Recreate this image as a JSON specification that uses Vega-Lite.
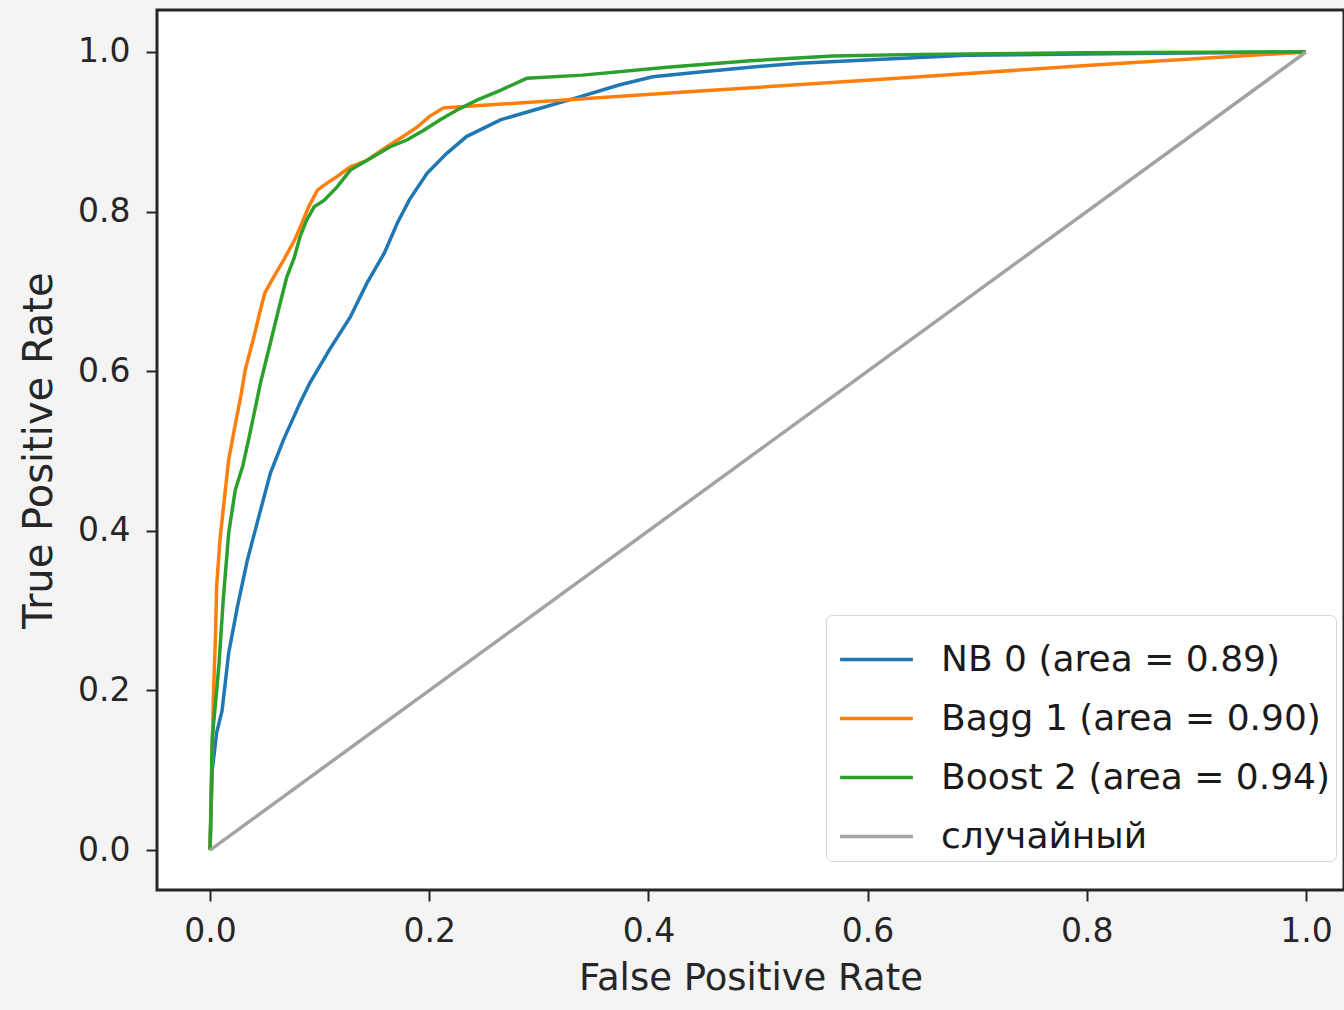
{
  "$schema": "https://vega.github.io/schema/vega-lite/v6.json",
  "autosize": "none",
  "width": 1187,
  "height": 880,
  "padding": {"left": 157, "top": 10, "right": 0, "bottom": 120},
  "background": "#f4f4f4",
  "config": {
    "view": {"fill": "white", "stroke": "#262626", "strokeWidth": 3},
    "font": "DejaVu Sans"
  },
  "datasets": {
    "roc": [
      {"model": "NB 0 (area = 0.89)", "i": 0, "fpr": 0, "tpr": 0},
      {"model": "NB 0 (area = 0.89)", "i": 1, "fpr": 0.002, "tpr": 0.1},
      {"model": "NB 0 (area = 0.89)", "i": 2, "fpr": 0.006, "tpr": 0.147},
      {"model": "NB 0 (area = 0.89)", "i": 3, "fpr": 0.011, "tpr": 0.175},
      {"model": "NB 0 (area = 0.89)", "i": 4, "fpr": 0.017, "tpr": 0.247},
      {"model": "NB 0 (area = 0.89)", "i": 5, "fpr": 0.025, "tpr": 0.305},
      {"model": "NB 0 (area = 0.89)", "i": 6, "fpr": 0.034, "tpr": 0.363},
      {"model": "NB 0 (area = 0.89)", "i": 7, "fpr": 0.043, "tpr": 0.41},
      {"model": "NB 0 (area = 0.89)", "i": 8, "fpr": 0.055, "tpr": 0.472},
      {"model": "NB 0 (area = 0.89)", "i": 9, "fpr": 0.067, "tpr": 0.514},
      {"model": "NB 0 (area = 0.89)", "i": 10, "fpr": 0.082, "tpr": 0.56},
      {"model": "NB 0 (area = 0.89)", "i": 11, "fpr": 0.091, "tpr": 0.585},
      {"model": "NB 0 (area = 0.89)", "i": 12, "fpr": 0.109, "tpr": 0.627},
      {"model": "NB 0 (area = 0.89)", "i": 13, "fpr": 0.128, "tpr": 0.668},
      {"model": "NB 0 (area = 0.89)", "i": 14, "fpr": 0.143, "tpr": 0.71},
      {"model": "NB 0 (area = 0.89)", "i": 15, "fpr": 0.159, "tpr": 0.748},
      {"model": "NB 0 (area = 0.89)", "i": 16, "fpr": 0.171, "tpr": 0.786},
      {"model": "NB 0 (area = 0.89)", "i": 17, "fpr": 0.182, "tpr": 0.815},
      {"model": "NB 0 (area = 0.89)", "i": 18, "fpr": 0.198, "tpr": 0.848},
      {"model": "NB 0 (area = 0.89)", "i": 19, "fpr": 0.216, "tpr": 0.873},
      {"model": "NB 0 (area = 0.89)", "i": 20, "fpr": 0.234, "tpr": 0.894},
      {"model": "NB 0 (area = 0.89)", "i": 21, "fpr": 0.265, "tpr": 0.915},
      {"model": "NB 0 (area = 0.89)", "i": 22, "fpr": 0.295, "tpr": 0.927},
      {"model": "NB 0 (area = 0.89)", "i": 23, "fpr": 0.338, "tpr": 0.944},
      {"model": "NB 0 (area = 0.89)", "i": 24, "fpr": 0.374, "tpr": 0.959},
      {"model": "NB 0 (area = 0.89)", "i": 25, "fpr": 0.404, "tpr": 0.969},
      {"model": "NB 0 (area = 0.89)", "i": 26, "fpr": 0.447, "tpr": 0.975},
      {"model": "NB 0 (area = 0.89)", "i": 27, "fpr": 0.493, "tpr": 0.981},
      {"model": "NB 0 (area = 0.89)", "i": 28, "fpr": 0.538, "tpr": 0.986},
      {"model": "NB 0 (area = 0.89)", "i": 29, "fpr": 0.599, "tpr": 0.99},
      {"model": "NB 0 (area = 0.89)", "i": 30, "fpr": 0.69, "tpr": 0.996},
      {"model": "NB 0 (area = 0.89)", "i": 31, "fpr": 0.84, "tpr": 0.998},
      {"model": "NB 0 (area = 0.89)", "i": 32, "fpr": 1, "tpr": 1},

      {"model": "Bagg 1 (area = 0.90)", "i": 0, "fpr": 0, "tpr": 0},
      {"model": "Bagg 1 (area = 0.90)", "i": 1, "fpr": 0.001, "tpr": 0.06},
      {"model": "Bagg 1 (area = 0.90)", "i": 2, "fpr": 0.002, "tpr": 0.125},
      {"model": "Bagg 1 (area = 0.90)", "i": 3, "fpr": 0.003, "tpr": 0.188},
      {"model": "Bagg 1 (area = 0.90)", "i": 4, "fpr": 0.005, "tpr": 0.27},
      {"model": "Bagg 1 (area = 0.90)", "i": 5, "fpr": 0.006, "tpr": 0.33},
      {"model": "Bagg 1 (area = 0.90)", "i": 6, "fpr": 0.009, "tpr": 0.388},
      {"model": "Bagg 1 (area = 0.90)", "i": 7, "fpr": 0.013, "tpr": 0.439},
      {"model": "Bagg 1 (area = 0.90)", "i": 8, "fpr": 0.017, "tpr": 0.489},
      {"model": "Bagg 1 (area = 0.90)", "i": 9, "fpr": 0.022, "tpr": 0.526},
      {"model": "Bagg 1 (area = 0.90)", "i": 10, "fpr": 0.028, "tpr": 0.568},
      {"model": "Bagg 1 (area = 0.90)", "i": 11, "fpr": 0.032, "tpr": 0.601},
      {"model": "Bagg 1 (area = 0.90)", "i": 12, "fpr": 0.04, "tpr": 0.643},
      {"model": "Bagg 1 (area = 0.90)", "i": 13, "fpr": 0.046, "tpr": 0.677},
      {"model": "Bagg 1 (area = 0.90)", "i": 14, "fpr": 0.05, "tpr": 0.698},
      {"model": "Bagg 1 (area = 0.90)", "i": 15, "fpr": 0.058, "tpr": 0.718},
      {"model": "Bagg 1 (area = 0.90)", "i": 16, "fpr": 0.067, "tpr": 0.739},
      {"model": "Bagg 1 (area = 0.90)", "i": 17, "fpr": 0.077, "tpr": 0.764},
      {"model": "Bagg 1 (area = 0.90)", "i": 18, "fpr": 0.084, "tpr": 0.786},
      {"model": "Bagg 1 (area = 0.90)", "i": 19, "fpr": 0.09, "tpr": 0.806},
      {"model": "Bagg 1 (area = 0.90)", "i": 20, "fpr": 0.098, "tpr": 0.827},
      {"model": "Bagg 1 (area = 0.90)", "i": 21, "fpr": 0.107, "tpr": 0.836},
      {"model": "Bagg 1 (area = 0.90)", "i": 22, "fpr": 0.116, "tpr": 0.844},
      {"model": "Bagg 1 (area = 0.90)", "i": 23, "fpr": 0.128, "tpr": 0.856},
      {"model": "Bagg 1 (area = 0.90)", "i": 24, "fpr": 0.143, "tpr": 0.864},
      {"model": "Bagg 1 (area = 0.90)", "i": 25, "fpr": 0.161, "tpr": 0.881},
      {"model": "Bagg 1 (area = 0.90)", "i": 26, "fpr": 0.176, "tpr": 0.894},
      {"model": "Bagg 1 (area = 0.90)", "i": 27, "fpr": 0.189, "tpr": 0.906},
      {"model": "Bagg 1 (area = 0.90)", "i": 28, "fpr": 0.2, "tpr": 0.919},
      {"model": "Bagg 1 (area = 0.90)", "i": 29, "fpr": 0.213, "tpr": 0.93},
      {"model": "Bagg 1 (area = 0.90)", "i": 30, "fpr": 0.225, "tpr": 0.931},
      {"model": "Bagg 1 (area = 0.90)", "i": 31, "fpr": 0.447, "tpr": 0.951},
      {"model": "Bagg 1 (area = 0.90)", "i": 32, "fpr": 0.648, "tpr": 0.969},
      {"model": "Bagg 1 (area = 0.90)", "i": 33, "fpr": 0.81, "tpr": 0.984},
      {"model": "Bagg 1 (area = 0.90)", "i": 34, "fpr": 1, "tpr": 1},

      {"model": "Boost 2 (area = 0.94)", "i": 0, "fpr": 0, "tpr": 0},
      {"model": "Boost 2 (area = 0.94)", "i": 1, "fpr": 0.002, "tpr": 0.14},
      {"model": "Boost 2 (area = 0.94)", "i": 2, "fpr": 0.008, "tpr": 0.23},
      {"model": "Boost 2 (area = 0.94)", "i": 3, "fpr": 0.012, "tpr": 0.313},
      {"model": "Boost 2 (area = 0.94)", "i": 4, "fpr": 0.017, "tpr": 0.397},
      {"model": "Boost 2 (area = 0.94)", "i": 5, "fpr": 0.023, "tpr": 0.451},
      {"model": "Boost 2 (area = 0.94)", "i": 6, "fpr": 0.03, "tpr": 0.482},
      {"model": "Boost 2 (area = 0.94)", "i": 7, "fpr": 0.037, "tpr": 0.526},
      {"model": "Boost 2 (area = 0.94)", "i": 8, "fpr": 0.046, "tpr": 0.585},
      {"model": "Boost 2 (area = 0.94)", "i": 9, "fpr": 0.055, "tpr": 0.635},
      {"model": "Boost 2 (area = 0.94)", "i": 10, "fpr": 0.063, "tpr": 0.68},
      {"model": "Boost 2 (area = 0.94)", "i": 11, "fpr": 0.07, "tpr": 0.718},
      {"model": "Boost 2 (area = 0.94)", "i": 12, "fpr": 0.077, "tpr": 0.743},
      {"model": "Boost 2 (area = 0.94)", "i": 13, "fpr": 0.082, "tpr": 0.768},
      {"model": "Boost 2 (area = 0.94)", "i": 14, "fpr": 0.088, "tpr": 0.789},
      {"model": "Boost 2 (area = 0.94)", "i": 15, "fpr": 0.095, "tpr": 0.806},
      {"model": "Boost 2 (area = 0.94)", "i": 16, "fpr": 0.104, "tpr": 0.814},
      {"model": "Boost 2 (area = 0.94)", "i": 17, "fpr": 0.116, "tpr": 0.831},
      {"model": "Boost 2 (area = 0.94)", "i": 18, "fpr": 0.128, "tpr": 0.852},
      {"model": "Boost 2 (area = 0.94)", "i": 19, "fpr": 0.143, "tpr": 0.864},
      {"model": "Boost 2 (area = 0.94)", "i": 20, "fpr": 0.164, "tpr": 0.881},
      {"model": "Boost 2 (area = 0.94)", "i": 21, "fpr": 0.18, "tpr": 0.89},
      {"model": "Boost 2 (area = 0.94)", "i": 22, "fpr": 0.195, "tpr": 0.902},
      {"model": "Boost 2 (area = 0.94)", "i": 23, "fpr": 0.21, "tpr": 0.915},
      {"model": "Boost 2 (area = 0.94)", "i": 24, "fpr": 0.225, "tpr": 0.927},
      {"model": "Boost 2 (area = 0.94)", "i": 25, "fpr": 0.244, "tpr": 0.94},
      {"model": "Boost 2 (area = 0.94)", "i": 26, "fpr": 0.265, "tpr": 0.952},
      {"model": "Boost 2 (area = 0.94)", "i": 27, "fpr": 0.289, "tpr": 0.967},
      {"model": "Boost 2 (area = 0.94)", "i": 28, "fpr": 0.34, "tpr": 0.971},
      {"model": "Boost 2 (area = 0.94)", "i": 29, "fpr": 0.417, "tpr": 0.981},
      {"model": "Boost 2 (area = 0.94)", "i": 30, "fpr": 0.493, "tpr": 0.989},
      {"model": "Boost 2 (area = 0.94)", "i": 31, "fpr": 0.568, "tpr": 0.995},
      {"model": "Boost 2 (area = 0.94)", "i": 32, "fpr": 0.648, "tpr": 0.997},
      {"model": "Boost 2 (area = 0.94)", "i": 33, "fpr": 0.8, "tpr": 0.999},
      {"model": "Boost 2 (area = 0.94)", "i": 34, "fpr": 1, "tpr": 1},

      {"model": "случайный", "i": 0, "fpr": 0, "tpr": 0},
      {"model": "случайный", "i": 1, "fpr": 1, "tpr": 1}
    ]
  },
  "data": {"name": "roc"},
  "mark": {"type": "line", "clip": true, "strokeCap": "butt"},
  "encoding": {
    "x": {
      "field": "fpr", "type": "quantitative",
      "scale": {"domain": [-0.0484, 1.0347], "nice": false, "zero": false},
      "axis": {
        "title": "False Positive Rate", "values": [0, 0.2, 0.4, 0.6, 0.8, 1.0], "format": ".1f",
        "grid": false, "domain": false, "tickColor": "#262626", "tickSize": 11, "tickWidth": 2,
        "labelFontSize": 33, "labelColor": "#262626", "labelPadding": 14,
        "titleFontSize": 37, "titleFontWeight": "normal", "titleColor": "#262626", "titlePadding": 12
      }
    },
    "y": {
      "field": "tpr", "type": "quantitative",
      "scale": {"domain": [-0.05, 1.0526], "nice": false, "zero": false},
      "axis": {
        "title": "True Positive Rate", "values": [0, 0.2, 0.4, 0.6, 0.8, 1.0], "format": ".1f",
        "grid": false, "domain": false, "tickColor": "#262626", "tickSize": 11, "tickWidth": 2,
        "labelFontSize": 33, "labelColor": "#262626", "labelPadding": 16,
        "titleFontSize": 40, "titleFontWeight": "normal", "titleColor": "#262626", "titlePadding": 18
      }
    },
    "order": {"field": "i", "type": "quantitative"},
    "color": {
      "field": "model", "type": "nominal",
      "scale": {
        "domain": ["NB 0 (area = 0.89)", "Bagg 1 (area = 0.90)", "Boost 2 (area = 0.94)", "случайный"],
        "range": ["#1f77b4", "#ff7f0e", "#2ca02c", "#a3a3a3"]
      },
      "legend": {
        "title": null, "orient": "none", "legendX": 669, "legendY": 605,
        "symbolType": "stroke", "symbolSize": 5300, "symbolOffset": 6,
        "labelFontSize": 36, "labelColor": "#1a1a1a", "labelOffset": 26, "labelLimit": 600,
        "rowPadding": 2, "padding": 6,
        "fillColor": "white", "strokeColor": "#d6d6d6", "cornerRadius": 6
      }
    },
    "strokeWidth": {
      "field": "model", "type": "nominal",
      "scale": {
        "domain": ["NB 0 (area = 0.89)", "Bagg 1 (area = 0.90)", "Boost 2 (area = 0.94)", "случайный"],
        "range": [3.5, 3.5, 3.5, 5.5]
      },
      "legend": {
        "title": null, "orient": "none", "legendX": 669, "legendY": 605,
        "symbolType": "stroke", "symbolSize": 5300, "symbolOffset": 6,
        "labelFontSize": 36, "labelColor": "#1a1a1a", "labelOffset": 26, "labelLimit": 600,
        "rowPadding": 2, "padding": 6,
        "fillColor": "white", "strokeColor": "#d6d6d6", "cornerRadius": 6
      }
    }
  }
}
